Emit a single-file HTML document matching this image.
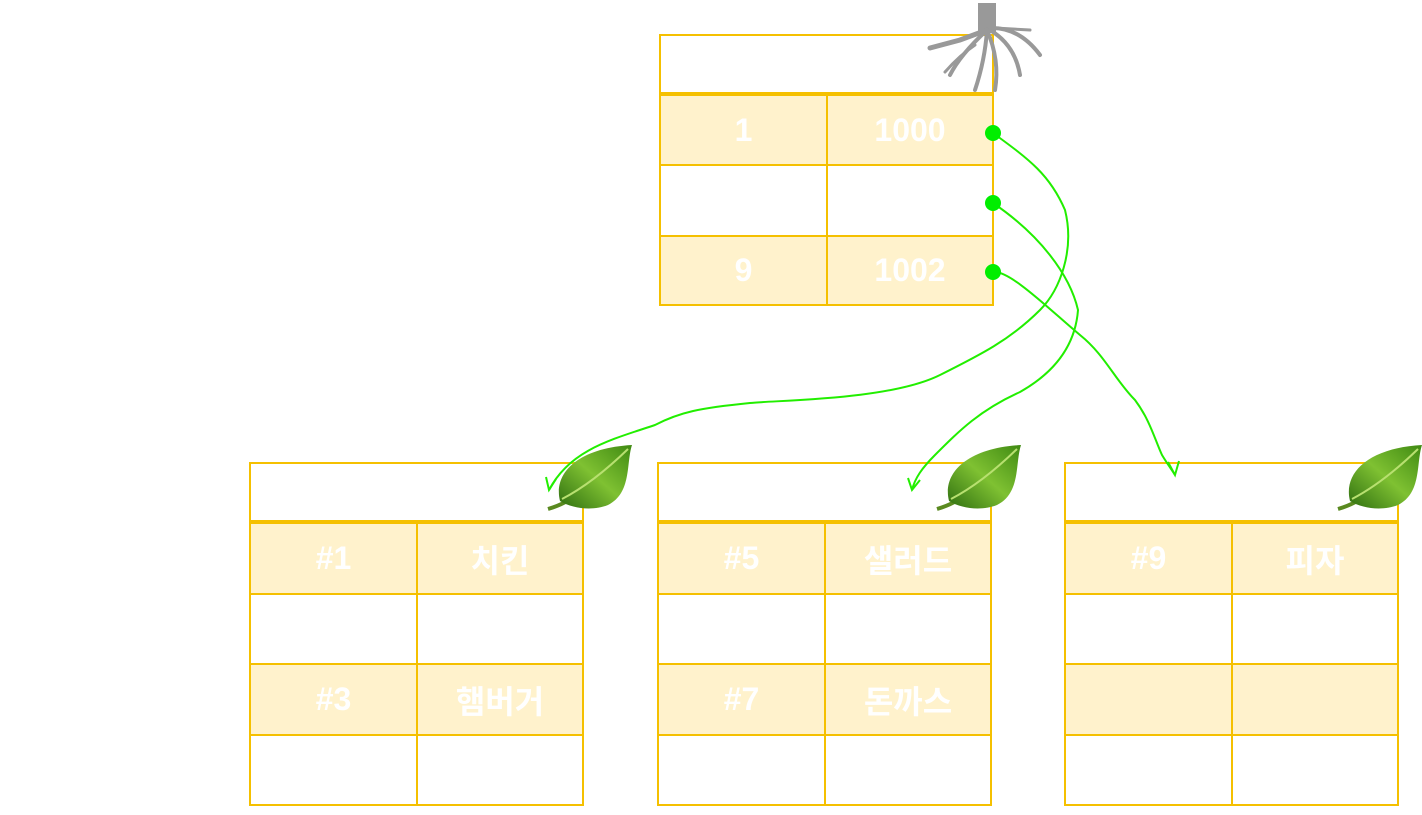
<!DOCTYPE html>
<html><head><meta charset="utf-8"><style>
body{margin:0;width:1422px;height:815px;background:#fff;position:relative;overflow:hidden;font-family:"Liberation Sans","Noto Sans CJK KR",sans-serif}
.c{position:absolute;box-sizing:border-box;border:2px solid #f5c000;color:#fff;font-weight:bold;font-size:32px;display:flex;align-items:center;justify-content:center}
.f{background:#fff2cc}
.ol{position:absolute;color:#fff;font-size:20px}
</style></head><body>
<div class="ol" style="left:30px;top:185px">Root Page</div>
<div class="ol" style="left:20px;top:610px">Leaf Page<br>&nbsp;&nbsp;&nbsp;Data Page</div>

<!-- root -->
<div class="c" style="left:659px;top:34px;width:335px;height:62px;border-bottom:4px solid #f5c000">100</div>
<div class="c f" style="left:659px;top:94px;width:169px;height:72px">1</div>
<div class="c f" style="left:826px;top:94px;width:168px;height:72px">1000</div>
<div class="c" style="left:659px;top:164px;width:169px;height:73px">5</div>
<div class="c" style="left:826px;top:164px;width:168px;height:73px">1001</div>
<div class="c f" style="left:659px;top:235px;width:169px;height:71px">9</div>
<div class="c f" style="left:826px;top:235px;width:168px;height:71px">1002</div>

<!-- leaf A -->
<div class="c" style="left:249px;top:462px;width:335px;height:62px;border-bottom:4px solid #f5c000">1000</div>
<div class="c f" style="left:249px;top:522px;width:169px;height:73px">#1</div>
<div class="c f" style="left:416px;top:522px;width:168px;height:73px">치킨</div>
<div class="c" style="left:249px;top:593px;width:169px;height:72px">#2</div>
<div class="c" style="left:416px;top:593px;width:168px;height:72px">초밥</div>
<div class="c f" style="left:249px;top:663px;width:169px;height:73px">#3</div>
<div class="c f" style="left:416px;top:663px;width:168px;height:73px">햄버거</div>
<div class="c" style="left:249px;top:734px;width:169px;height:72px">#4</div>
<div class="c" style="left:416px;top:734px;width:168px;height:72px">한식</div>

<!-- leaf B -->
<div class="c" style="left:657px;top:462px;width:335px;height:62px;border-bottom:4px solid #f5c000">1001</div>
<div class="c f" style="left:657px;top:522px;width:169px;height:73px">#5</div>
<div class="c f" style="left:824px;top:522px;width:168px;height:73px">샐러드</div>
<div class="c" style="left:657px;top:593px;width:169px;height:72px">#6</div>
<div class="c" style="left:824px;top:593px;width:168px;height:72px">족발</div>
<div class="c f" style="left:657px;top:663px;width:169px;height:73px">#7</div>
<div class="c f" style="left:824px;top:663px;width:168px;height:73px">돈까스</div>
<div class="c" style="left:657px;top:734px;width:169px;height:72px">#8</div>
<div class="c" style="left:824px;top:734px;width:168px;height:72px">양식</div>

<!-- leaf C -->
<div class="c" style="left:1064px;top:462px;width:335px;height:62px;border-bottom:4px solid #f5c000">1002</div>
<div class="c f" style="left:1064px;top:522px;width:169px;height:73px">#9</div>
<div class="c f" style="left:1231px;top:522px;width:168px;height:73px">피자</div>
<div class="c" style="left:1064px;top:593px;width:169px;height:72px">#10</div>
<div class="c" style="left:1231px;top:593px;width:168px;height:72px">회</div>
<div class="c f" style="left:1064px;top:663px;width:169px;height:73px"></div>
<div class="c f" style="left:1231px;top:663px;width:168px;height:73px"></div>
<div class="c" style="left:1064px;top:734px;width:169px;height:72px"></div>
<div class="c" style="left:1231px;top:734px;width:168px;height:72px"></div>

<svg width="1422" height="815" style="position:absolute;left:0;top:0">
<defs>
<linearGradient id="lg" x1="0" y1="1" x2="1" y2="0"><stop offset="0" stop-color="#2e6e10"/><stop offset=".5" stop-color="#7fc132"/><stop offset="1" stop-color="#3f8a12"/></linearGradient>
<g id="leaf"><path d="M0 66 Q20 60 30 50" stroke="#5a8a20" stroke-width="4" fill="none"/><path d="M12 58 C5 30 30 5 84 2 C78 20 84 50 60 62 C45 68 25 66 12 58Z" fill="url(#lg)"/><path d="M14 56 Q45 40 80 6" stroke="#b8e070" stroke-width="2" fill="none"/></g>
</defs>
<g fill="none" stroke="#22ee00" stroke-width="2">
<path d="M993 133 C1030 160 1050 175 1065 210 C1075 250 1060 290 1040 310 C1010 340 980 355 940 375 C890 400 780 400 750 403 C700 408 680 412 655 425 C610 440 570 450 549 490"/>
<path d="M546 477 L549 490 L556 479"/>
<path d="M993 203 C1040 235 1070 275 1078 310 C1075 350 1050 375 1020 392 C980 410 960 430 935 455 C922 468 915 478 912 490"/>
<path d="M908 478 L912 490 L920 480"/>
<path d="M993 272 C1010 270 1050 310 1080 335 C1105 355 1115 380 1135 400 C1150 420 1155 440 1162 455 C1168 465 1172 470 1175 475"/>
<path d="M1168 462 L1175 475 L1179 461"/>
</g>
<g fill="#00ee00"><circle cx="993" cy="133" r="8"/><circle cx="993" cy="203" r="8"/><circle cx="993" cy="272" r="8"/></g>
<use href="#leaf" x="548" y="443"/>
<use href="#leaf" x="937" y="443"/>
<use href="#leaf" x="1338" y="443"/>
<g stroke="#999" stroke-linecap="round" fill="none">
<rect x="978" y="3" width="18" height="30" fill="#999" stroke="none"/>
<path d="M987 30 L960 40 L930 48" stroke-width="5"/>
<path d="M987 30 Q960 55 950 75" stroke-width="4"/>
<path d="M987 30 Q985 60 975 90" stroke-width="4"/>
<path d="M987 30 Q1000 60 995 90" stroke-width="4"/>
<path d="M990 30 Q1015 45 1020 75" stroke-width="4"/>
<path d="M992 28 Q1020 28 1040 55" stroke-width="4"/>
<path d="M995 28 L1030 30" stroke-width="3"/>
<path d="M975 45 Q960 55 945 72" stroke-width="3"/>
</g>
</svg>
</body></html>
